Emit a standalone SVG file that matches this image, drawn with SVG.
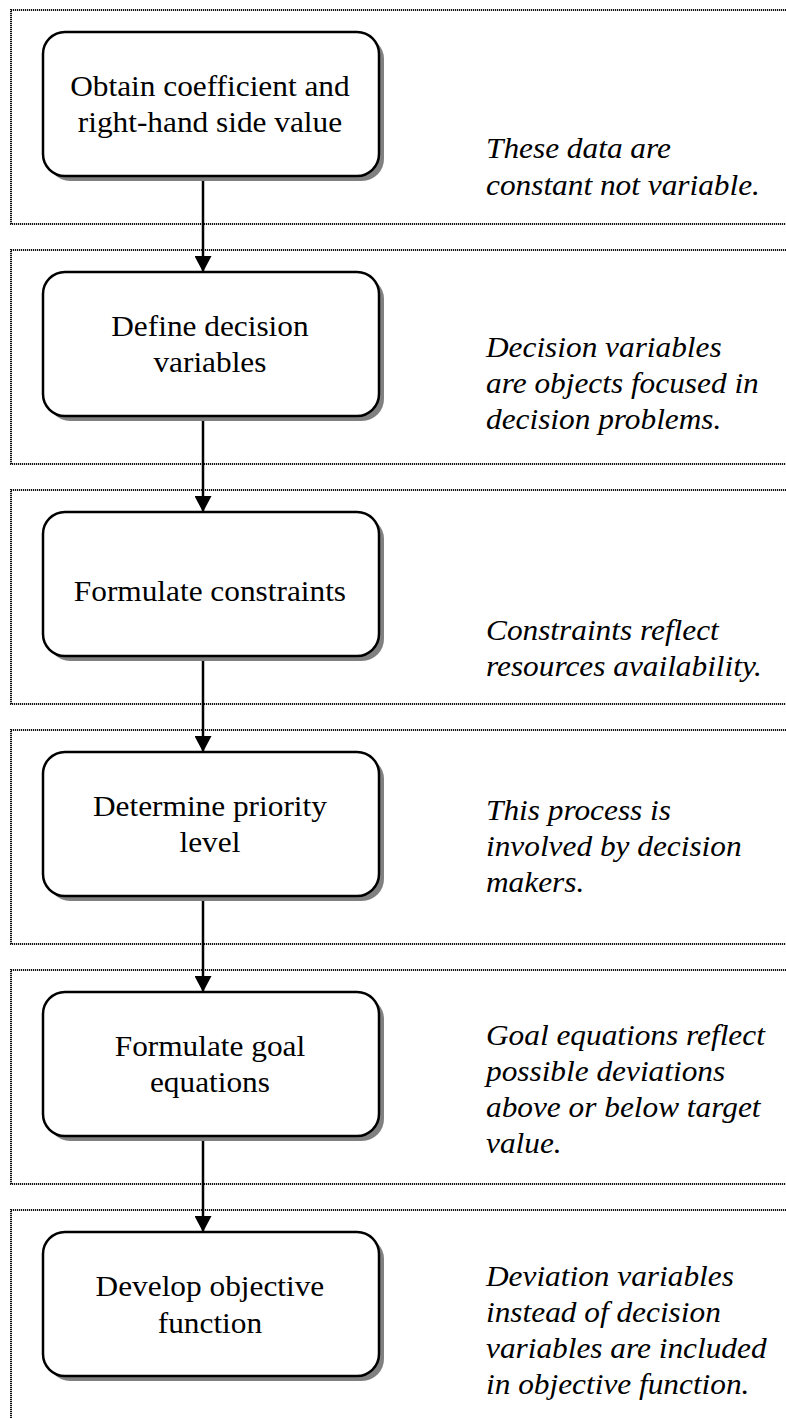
<svg xmlns="http://www.w3.org/2000/svg" width="786" height="1418" viewBox="0 0 786 1418">
<style>
.panel{fill:none;stroke:#111;stroke-width:2;stroke-dasharray:1.2 0.8}
.box{fill:#fff;stroke:#000;stroke-width:2.5}
.shadow{fill:#808080}
.t{font-family:"Liberation Serif","Times New Roman",Times,serif;font-size:29px;fill:#000}
.n{text-anchor:middle}
.i{font-style:italic}
.conn{stroke:#000;stroke-width:2.5;fill:none}
</style>
<defs>
<marker id="ah" markerUnits="userSpaceOnUse" markerWidth="17" markerHeight="17" refX="16" refY="8.5" orient="auto">
<path d="M0,0 L16,8.5 L0,17 z" fill="#000"/>
</marker>
</defs>
<rect width="786" height="1418" fill="#fff"/>
<g id="panels">
<path class="panel" d="M790,10 H11 V224 H790"/>
<path class="panel" d="M790,250 H11 V464 H790"/>
<path class="panel" d="M790,490 H11 V704 H790"/>
<path class="panel" d="M790,730 H11 V944 H790"/>
<path class="panel" d="M790,970 H11 V1184 H790"/>
<path class="panel" d="M790,1210 H11 V1420"/>
</g>
<g id="connectors">
<line class="conn" x1="203" y1="177" x2="203" y2="272" marker-end="url(#ah)"/>
<line class="conn" x1="203" y1="417" x2="203" y2="512" marker-end="url(#ah)"/>
<line class="conn" x1="203" y1="657" x2="203" y2="752" marker-end="url(#ah)"/>
<line class="conn" x1="203" y1="897" x2="203" y2="992" marker-end="url(#ah)"/>
<line class="conn" x1="203" y1="1137" x2="203" y2="1232" marker-end="url(#ah)"/>
</g>
<g id="node1">
<rect class="shadow" x="48" y="37" width="336" height="144" rx="22"/>
<rect class="box" x="43" y="32" width="336" height="144" rx="22"/>
<g transform="scale(1.08,1)">
<text class="t n" x="194.4" y="96">Obtain coefficient and</text>
<text class="t n" x="194.4" y="132">right-hand side value</text>
</g>
</g>
<g id="node2">
<rect class="shadow" x="48" y="277" width="336" height="144" rx="22"/>
<rect class="box" x="43" y="272" width="336" height="144" rx="22"/>
<g transform="scale(1.08,1)">
<text class="t n" x="194.4" y="336">Define decision</text>
<text class="t n" x="194.4" y="372">variables</text>
</g>
</g>
<g id="node3">
<rect class="shadow" x="48" y="517" width="336" height="144" rx="22"/>
<rect class="box" x="43" y="512" width="336" height="144" rx="22"/>
<g transform="scale(1.08,1)">
<text class="t n" x="194.4" y="601">Formulate constraints</text>
</g>
</g>
<g id="node4">
<rect class="shadow" x="48" y="757" width="336" height="144" rx="22"/>
<rect class="box" x="43" y="752" width="336" height="144" rx="22"/>
<g transform="scale(1.08,1)">
<text class="t n" x="194.4" y="816">Determine priority</text>
<text class="t n" x="194.4" y="852">level</text>
</g>
</g>
<g id="node5">
<rect class="shadow" x="48" y="997" width="336" height="144" rx="22"/>
<rect class="box" x="43" y="992" width="336" height="144" rx="22"/>
<g transform="scale(1.08,1)">
<text class="t n" x="194.4" y="1056">Formulate goal</text>
<text class="t n" x="194.4" y="1092">equations</text>
</g>
</g>
<g id="node6">
<rect class="shadow" x="48" y="1237" width="336" height="144" rx="22"/>
<rect class="box" x="43" y="1232" width="336" height="144" rx="22"/>
<g transform="scale(1.08,1)">
<text class="t n" x="194.4" y="1296">Develop objective</text>
<text class="t n" x="194.4" y="1333">function</text>
</g>
</g>
<g id="notes" transform="scale(1.08,1)">
<text class="t i" x="450" y="158">These data are</text>
<text class="t i" x="450" y="195">constant not variable.</text>
<text class="t i" x="450" y="357">Decision variables</text>
<text class="t i" x="450" y="393">are objects focused in</text>
<text class="t i" x="450" y="429">decision problems.</text>
<text class="t i" x="450" y="640">Constraints reflect</text>
<text class="t i" x="450" y="676">resources availability.</text>
<text class="t i" x="450" y="820">This process is</text>
<text class="t i" x="450" y="856">involved by decision</text>
<text class="t i" x="450" y="892">makers.</text>
<text class="t i" x="450" y="1045">Goal equations reflect</text>
<text class="t i" x="450" y="1081">possible deviations</text>
<text class="t i" x="450" y="1117">above or below target</text>
<text class="t i" x="450" y="1153">value.</text>
<text class="t i" x="450" y="1286">Deviation variables</text>
<text class="t i" x="450" y="1322">instead of decision</text>
<text class="t i" x="450" y="1358">variables are included</text>
<text class="t i" x="450" y="1394">in objective function.</text>
</g>
</svg>
